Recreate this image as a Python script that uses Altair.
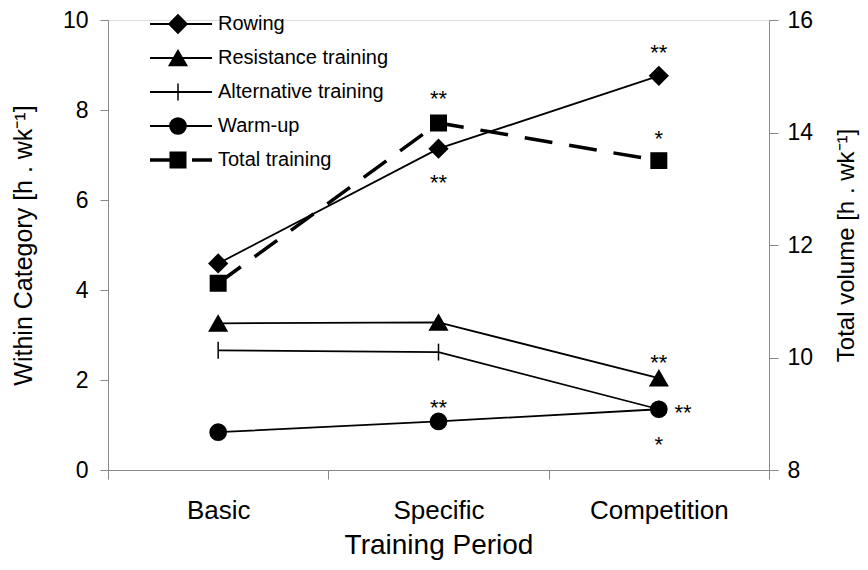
import json
import altair as alt
import pandas as pd

# ---------------- data ----------------
periods = ["Basic", "Specific", "Competition"]
period_pos = [1, 2, 3]
series_names = ["Rowing", "Resistance training", "Alternative training", "Warm-up", "Total training"]
rowing = [4.59, 7.14, 8.76]
resistance = [3.26, 3.28, 2.04]
alternative = [2.66, 2.62, 1.35]
warmup = [0.84, 1.08, 1.35]
total = [11.32, 14.17, 13.50]

# significance marks (x position, value on left axis, text)
ann_pos = [2, 2, 3, 3, 3, 3.11, 3, 2]
ann_val = [8.36, 6.50, 9.38, 7.47, 2.48, 1.38, 0.67, 1.49]
ann_text = ["**", "**", "**", "*", "**", "**", "*", "**"]

shape_range = ["diamond", "triangle-up", "M0,-1V1", "circle", "square"]
size_range = [330, 240, 225, 230, 240]

FONT = "Liberation Sans"

left_rows = []
for name, vals in zip(series_names[:4], [rowing, resistance, alternative, warmup]):
    for p, pos, v in zip(periods, period_pos, vals):
        left_rows.append({"series": name, "period": p, "pos": pos, "value": v})
left_df = pd.DataFrame(left_rows)

right_df = pd.DataFrame({"series": "Total training", "period": periods,
                         "pos": period_pos, "value": total})
ann_df = pd.DataFrame({"pos": ann_pos, "value": ann_val, "text": ann_text})
legend_df = pd.DataFrame({"series": series_names})

label_expr = "(" + json.dumps({str(p): n for p, n in zip(period_pos, periods)}) + ")[datum.value + ''] || ''"

x_enc = alt.X(
    "pos:Q",
    scale=alt.Scale(domain=[0.5, 3.5], nice=False, zero=False),
    axis=alt.Axis(
        values=[0.5, 1, 1.5, 2, 2.5, 3, 3.5],
        labelExpr=label_expr,
        tickOpacity={"condition": {"test": "datum.value % 1 === 0", "value": 0}, "value": 1},
        tickSize=9,
        labelPadding=18,
        labelFontSize=26,
        title="Training Period",
        titleFontSize=28,
        titleFontWeight=400,
        titlePadding=8,
        grid=False,
    ),
)

shape_enc = alt.Shape("series:N", scale=alt.Scale(domain=series_names, range=shape_range), legend=None)
size_enc = alt.Size("series:N", scale=alt.Scale(domain=series_names, range=size_range), legend=None)

point_props = dict(filled=True, color="black", stroke="black", strokeWidth=1.5, opacity=1)

y_left = alt.Y(
    "value:Q",
    scale=alt.Scale(domain=[0, 10], nice=False),
    axis=alt.Axis(values=[0, 2, 4, 6, 8, 10], orient="left", tickSize=8, labelPadding=12,
                  labelFontSize=23, title="Within Category  [h . wk⁻¹]", titleFontSize=25,
                  titleFontWeight=400, titlePadding=26, grid=False),
)

left_lines = alt.Chart(left_df).mark_line(color="black", strokeWidth=1.8).encode(
    x=x_enc, y=y_left, detail="series:N")
left_points = alt.Chart(left_df).mark_point(**point_props).encode(
    x=x_enc, y=y_left, shape=shape_enc, size=size_enc)
ann = alt.Chart(ann_df).mark_text(fontSize=22, dy=5, font=FONT, color="black").encode(
    x=x_enc, y=y_left, text="text:N")
left_group = alt.layer(left_lines, left_points, ann)

y_right = alt.Y(
    "value:Q",
    scale=alt.Scale(domain=[8, 16], nice=False, zero=False),
    axis=alt.Axis(values=[8, 10, 12, 14, 16], orient="right", tickSize=9, labelPadding=9,
                  labelFontSize=23, title="Total volume [h . wk⁻¹]", titleFontSize=24,
                  titleFontWeight=400, titleAngle=270, titlePadding=46, grid=False),
)
right_line = alt.Chart(right_df).mark_line(color="black", strokeWidth=3.5, strokeDash=[28, 17]).encode(
    x=x_enc, y=y_right)
right_points = alt.Chart(right_df).mark_point(**point_props).encode(
    x=x_enc, y=y_right, shape=shape_enc, size=size_enc)
right_group = alt.layer(right_line, right_points)

# ---------------- legend ----------------
y_leg = alt.Y("series:N", sort=series_names,
              scale=alt.Scale(type="point", domain=series_names, range=[4, 140], padding=0),
              axis=None)
is_total = alt.datum.series == "Total training"
leg_rule = alt.Chart(legend_df).mark_rule(color="black").encode(
    x=alt.value(42), x2=alt.value(104), y=y_leg,
    strokeWidth=alt.condition(is_total, alt.value(3.5), alt.value(1.8)),
    strokeDash=alt.condition(is_total, alt.value([33, 9, 20, 20]), alt.value([1, 0])),
)
leg_pts = alt.Chart(legend_df).mark_point(**point_props).encode(
    x=alt.value(70), y=y_leg, shape=shape_enc, size=size_enc)
leg_txt = alt.Chart(legend_df).mark_text(align="left", baseline="middle", fontSize=20,
                                         font=FONT, color="black").encode(
    x=alt.value(110), y=y_leg, text="series:N")
legend_group = alt.layer(leg_rule, leg_pts, leg_txt)

chart = alt.layer(left_group, right_group, legend_group).resolve_scale(
    y="independent"
).properties(
    width=661, height=450,
    autosize=alt.AutoSizeParams(type="none"),
    padding={"left": 100, "top": 12, "right": 91, "bottom": 92},
).configure_view(strokeWidth=0).configure_axis(
    domainColor="black", domainWidth=1.6, tickColor="black", tickWidth=1.6,
    labelColor="black", titleColor="black", labelFont=FONT, titleFont=FONT,
).configure(background="white")

chart.save("out.html", embed_options={"renderer": "svg", "actions": False})
